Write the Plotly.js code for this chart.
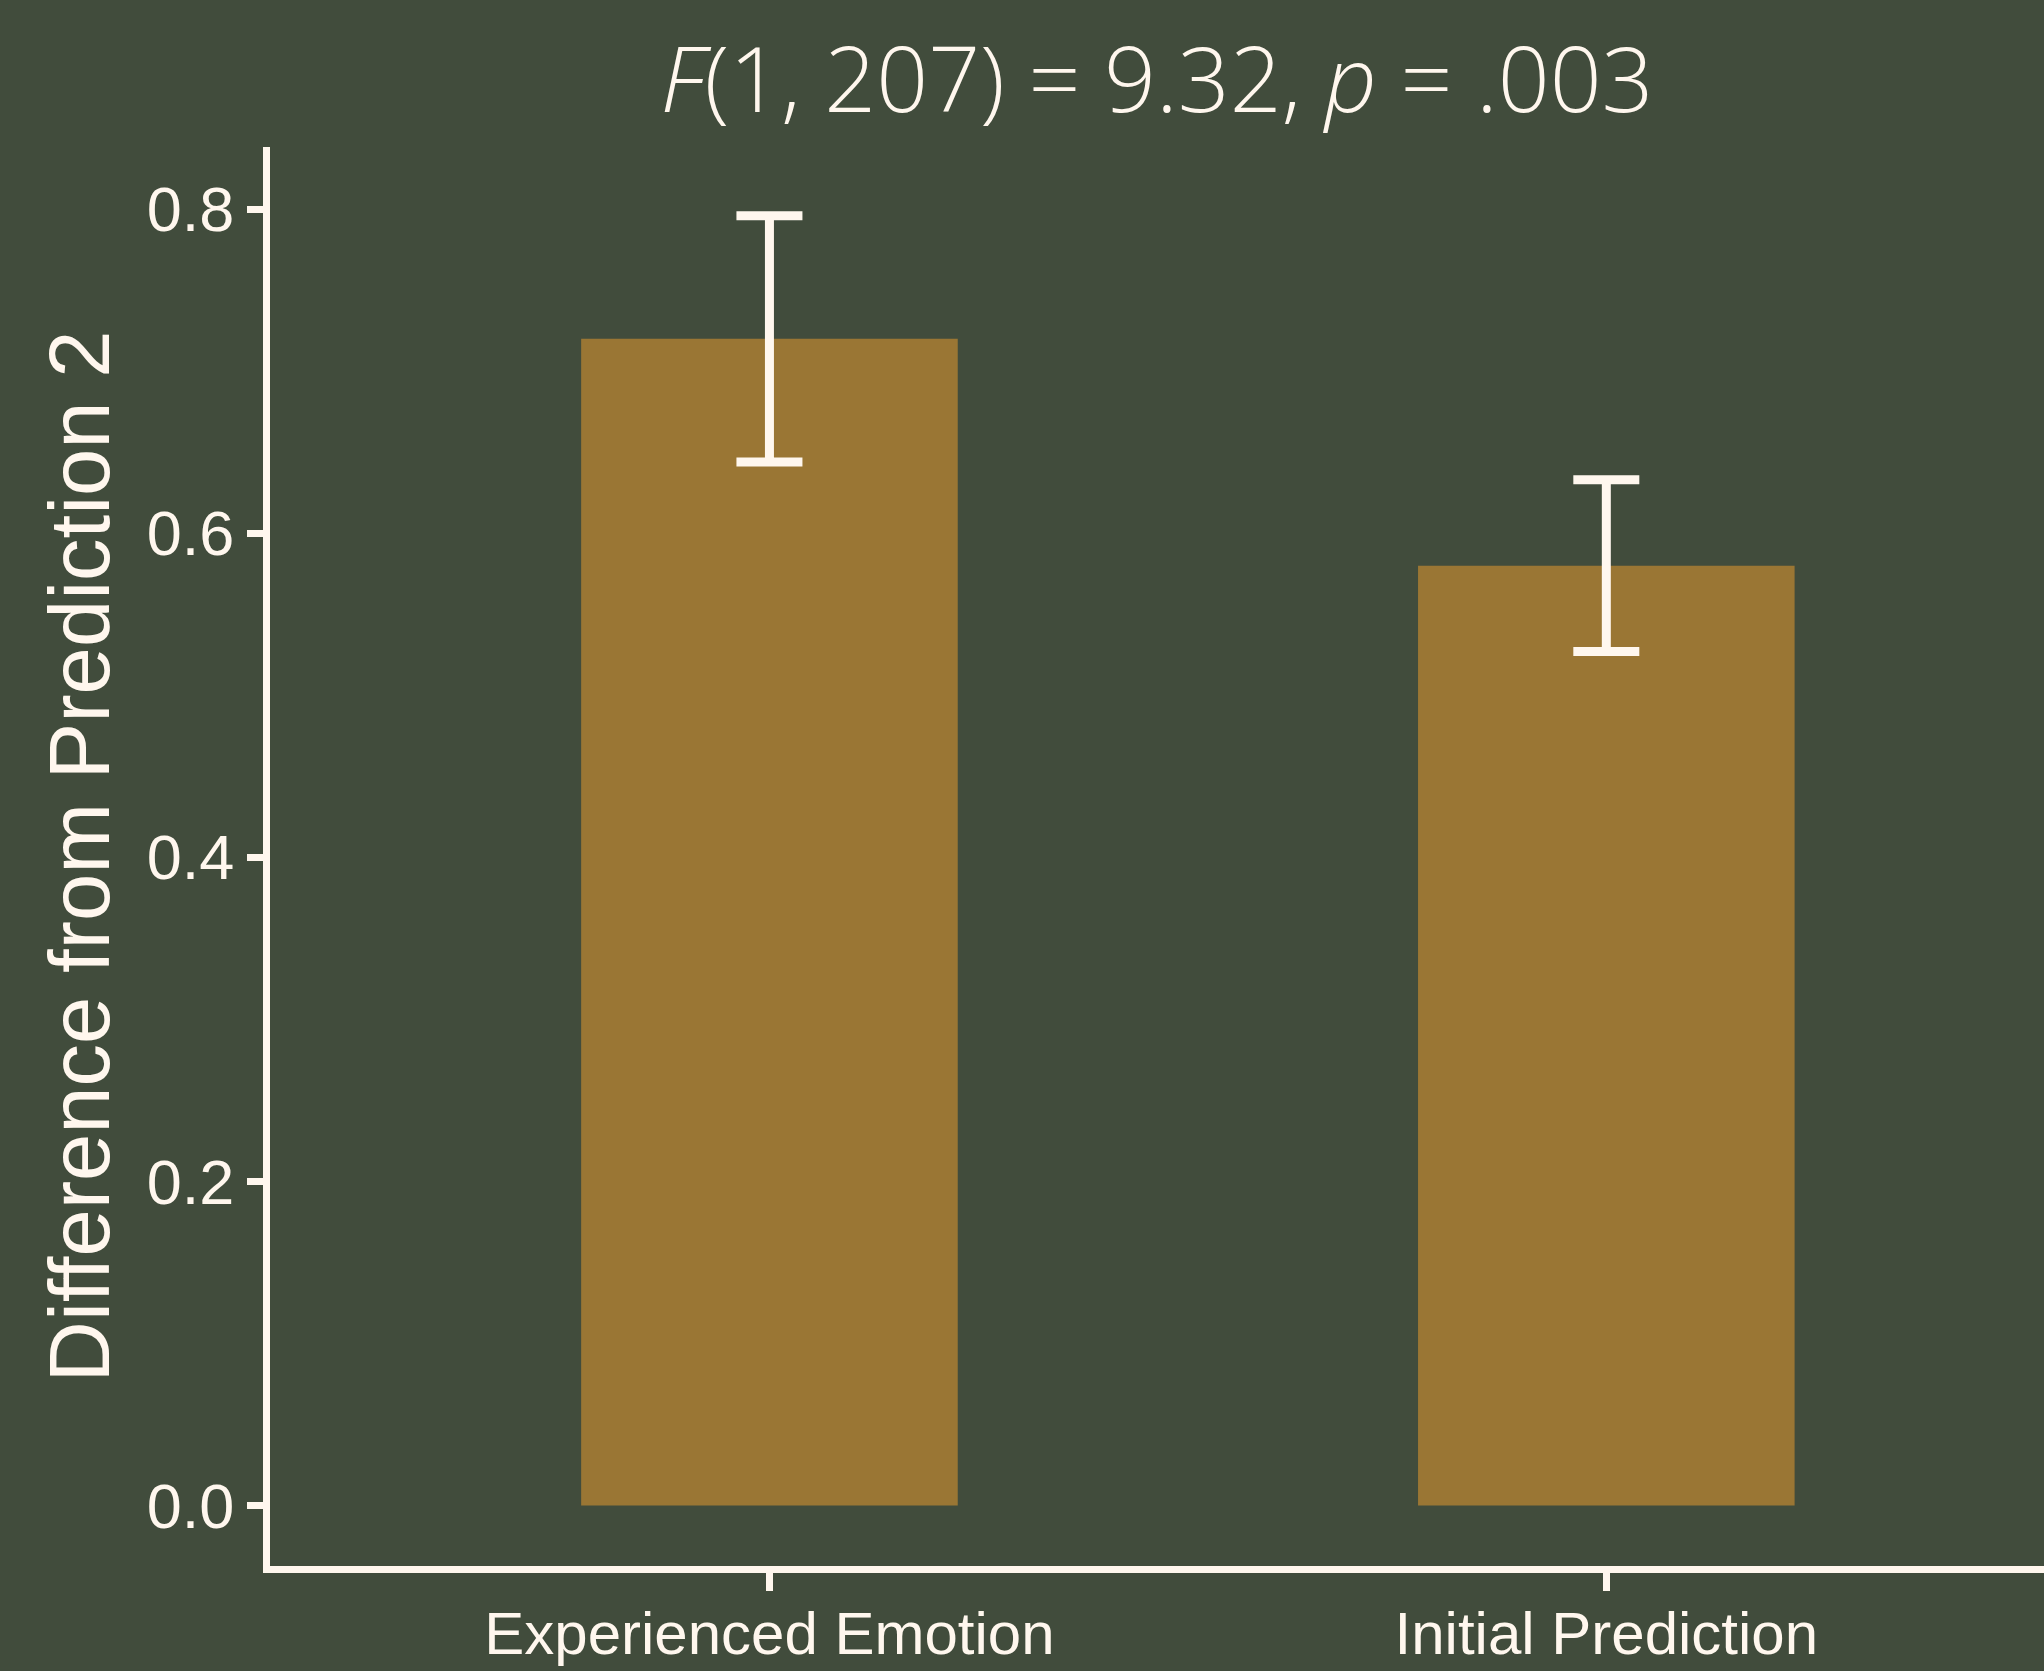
<!DOCTYPE html>
<html>
<head>
<meta charset="utf-8">
<script src="https://cdn.plot.ly/plotly-3.0.1.min.js"></script>
<style>
  html, body { margin: 0; padding: 0; background: #414C3C; }
  #chart { width: 2044px; height: 1671px; }
</style>
</head>
<body>
<div id="chart"></div>
<script>
const categories = ["Experienced Emotion", "Initial Prediction"];
const means = [0.720, 0.580];
const errors = [0.076, 0.053];
const yTickVals = [0.0, 0.2, 0.4, 0.6, 0.8];
const yTickText = ["0.0", "0.2", "0.4", "0.6", "0.8"];

const cream = "#FFF7EE";
const bg = "#414C3C";
const barColor = "#9A7634";
const tickFont = "Liberation Sans, Arial, Helvetica, sans-serif";

const trace = {
  type: "bar",
  x: categories,
  y: means,
  width: 0.45,
  marker: { color: barColor, line: { width: 0 } },
  error_y: {
    type: "data",
    array: errors,
    visible: true,
    color: cream,
    thickness: 9,
    width: 33
  },
  hoverinfo: "skip"
};

const layout = {
  width: 2044,
  height: 1671,
  paper_bgcolor: bg,
  plot_bgcolor: bg,
  margin: { l: 269.5, r: 0, t: 147, b: 104.5, pad: 0 },
  showlegend: false,
  title: {
    text: "<i>F</i>(1, 207) = 9.32, <i>p</i> = .003",
    font: { family: "Open Sans, sans-serif", size: 91, color: cream, weight: 300 },
    x: 0.5,
    xanchor: "center",
    xref: "paper",
    y: 1 - 80 / 1671,
    yanchor: "middle",
    yref: "container"
  },
  xaxis: {
    type: "category",
    range: [-0.5968, 1.523],
    showline: true,
    linecolor: cream,
    linewidth: 7,
    ticks: "outside",
    ticklen: 18,
    tickwidth: 7,
    tickcolor: cream,
    ticklabelstandoff: -9,
    tickfont: { family: tickFont, size: 60, color: cream },
    showgrid: false,
    zeroline: false,
    fixedrange: true
  },
  yaxis: {
    range: [-0.0373, 0.8384],
    tickvals: yTickVals,
    ticktext: yTickText,
    showline: true,
    linecolor: cream,
    linewidth: 7,
    ticks: "outside",
    ticklen: 16,
    tickwidth: 7,
    tickcolor: cream,
    tickfont: { family: tickFont, size: 63, color: cream },
    showgrid: false,
    zeroline: false,
    fixedrange: true,
    title: {
      text: "Difference from Prediction 2",
      font: { family: "Liberation Sans, Arial, sans-serif", size: 85, color: cream },
      standoff: 12
    }
  }
};

Plotly.newPlot("chart", [trace], layout, { displayModeBar: false, staticPlot: true });
</script>
</body>
</html>
